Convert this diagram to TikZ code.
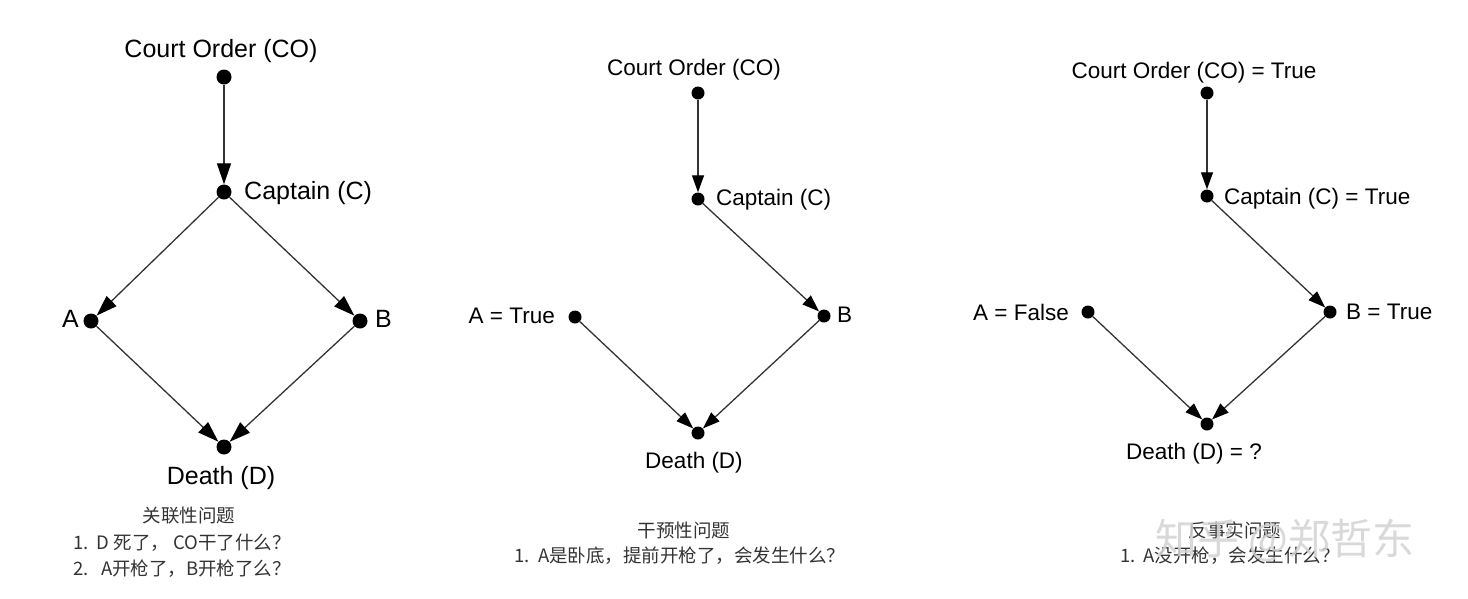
\documentclass[tikz,border=0pt]{standalone}
\usepackage{fontspec}
\setmainfont{Liberation Sans}
\newfontfamily\cjk{Noto Sans CJK SC}
\usetikzlibrary{arrows.meta}
\tikzset{
  dot/.style={circle, fill=black, inner sep=0pt, minimum size=#1},
  dot/.default=13pt,
  lbl/.style={inner sep=0pt, font=\fontsize{22.5}{27}\selectfont},
  biglbl/.style={inner sep=0pt, font=\fontsize{25}{30}\selectfont},
  causal/.style={draw=black!80, line width=1.3pt, -{Triangle[length=17pt,width=12pt,color=black]}},
  bigcausal/.style={causal, -{Triangle[length=21pt,width=14pt,color=black]}},
  qtext/.style={inner sep=0pt, text=black!80, font=\cjk\fontsize{18.5}{22}\selectfont},
}
\begin{document}
\begin{tikzpicture}[x=1pt, y=-1pt]
        \useasboundingbox (0,0) rectangle (1468,598);

        % Association graph
        \node[dot=15pt] (co1) at (224, 77) {};
        \node[dot=15pt] (c1) at (224, 192) {};
        \node[dot=15pt] (a1) at (91, 321) {};
        \node[dot=15pt] (b1) at (360, 321) {};
        \node[dot=15pt] (d1) at (224, 447) {};
        \node[biglbl] (co1l) at (221, 51) {Court Order (CO)};
        \node[biglbl, anchor=west] (c1l) at (244, 193) {Captain (C)};
        \node[biglbl, anchor=east] (a1l) at (79, 319) {A};
        \node[biglbl, anchor=west] (b1l) at (375, 319) {B};
        \node[biglbl] (d1l) at (221, 478) {Death (D)};
        \foreach \from/\to in {co1/c1, c1/a1, c1/b1, a1/d1, b1/d1}
            \draw[bigcausal] (\from) -- (\to);

        % Intervention graph
        \node[dot] (co2) at (698, 93) {};
        \node[dot] (c2) at (698, 199) {};
        \node[dot] (a2) at (575, 317) {};
        \node[dot] (b2) at (824, 316) {};
        \node[dot] (d2) at (698, 433) {};
        \node[lbl] (co2l) at (694, 70) {Court Order (CO)};
        \node[lbl, anchor=west] (c2l) at (716, 200) {Captain (C)};
        \node[lbl, anchor=east] (a2l) at (555, 316) {A = True};
        \node[lbl, anchor=west] (b2l) at (837, 315) {B};
        \node[lbl] (d2l) at (694, 463) {Death (D)};
        \foreach \from/\to in {co2/c2, c2/b2, a2/d2, b2/d2}
            \draw[causal] (\from) -- (\to);

        % Counterfactual graph
        \node[dot] (co3) at (1207, 93) {};
        \node[dot] (c3) at (1207, 196) {};
        \node[dot] (a3) at (1088, 312) {};
        \node[dot] (b3) at (1330, 312) {};
        \node[dot] (d3) at (1207, 424) {};
        \node[lbl] (co3l) at (1194, 73) {Court Order (CO) = True};
        \node[lbl, anchor=west] (c3l) at (1224, 199) {Captain (C) = True};
        \node[lbl, anchor=east] (a3l) at (1069, 312) {A = False};
        \node[lbl, anchor=west] (b3l) at (1346, 312) {B = True};
        \node[lbl] (d3l) at (1194, 454) {Death (D) = ?};
        \foreach \from/\to in {co3/c3, c3/b3, a3/d3, b3/d3}
            \draw[causal] (\from) -- (\to);

        % Questions
        \node[qtext] (q1) at (189, 516) {关联性问题};
        \node[qtext, anchor=west] (q1a) at (73, 543) {1.\ \ D 死了， CO干了什么？};
        \node[qtext, anchor=west] (q1b) at (73, 569) {2.\ \ \ A开枪了，B开枪了么？};
        \node[qtext] (q2) at (684, 530) {干预性问题};
        \node[qtext] (q2a) at (680, 556) {1.\ \ A是卧底，提前开枪了，会发生什么？};
        \node[qtext] (q3) at (1235, 530) {反事实问题};
        \node[qtext] (q3a) at (1230, 556) {1.\ \ A没开枪，会发生什么？};

        % Watermark
        \node[inner sep=0pt, anchor=west, text=gray!35, opacity=.85,
              font=\cjk\fontsize{42}{48}\selectfont] (mark) at (1155, 540) {知乎 @郑哲东};
    \end{tikzpicture}
\end{document}
